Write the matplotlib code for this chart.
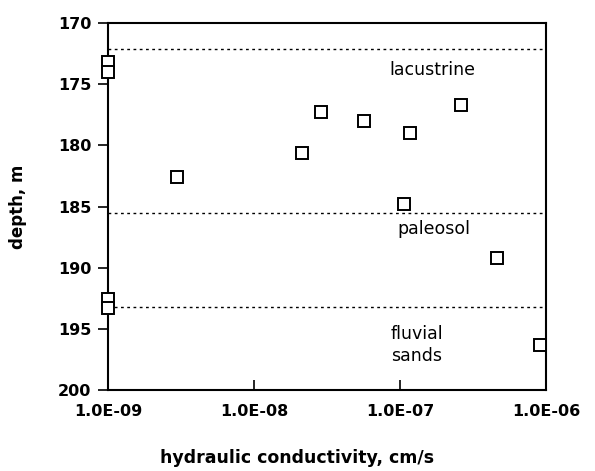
import matplotlib
matplotlib.use("Agg")
import matplotlib.pyplot as plt

# data
conductivity = [1.0e-9, 1.0e-9, 2.97e-9, 2.12e-8, 2.88e-8, 5.69e-8, 1.17e-7,
                2.64e-7, 1.06e-7, 4.59e-7, 9.1e-7, 1.0e-9, 1.0e-9]
depth = [173.2, 174.0, 182.6, 180.6, 177.3, 178.0, 179.0,
         176.7, 184.8, 189.2, 196.3, 192.6, 193.3]

boundaries = [172.1, 185.5, 193.2]
unit_names = ["lacustrine", "paleosol", "fluvial\nsands"]
unit_x = [8.5e-8, 9.6e-8, 8.7e-8]
unit_y = [173.8, 186.8, 196.3]

y_ticks = [170, 175, 180, 185, 190, 195, 200]
x_ticks = [1e-9, 1e-8, 1e-7, 1e-6]
x_tick_labels = ["1.0E-09", "1.0E-08", "1.0E-07", "1.0E-06"]

plt.rcParams['font.family'] = ['DejaVu Sans']

fig = plt.figure(figsize=(5.95, 4.71), dpi=100)
ax = fig.add_axes([0.1815, 0.172, 0.736, 0.779])

ax.set_xscale('log')
ax.set_xlim(1e-9, 1e-6)
ax.set_ylim(200, 170)

# formation boundaries
for b in boundaries:
    ax.axhline(b, color='black', linewidth=1.0, linestyle=(0, (2, 2.5)))

ax.plot(conductivity, depth, linestyle='none', marker='s', markersize=8.5,
        markerfacecolor='white', markeredgecolor='black',
        markeredgewidth=1.4, clip_on=False, zorder=3)

for name, xx, yy in zip(unit_names, unit_x, unit_y):
    ax.text(xx, yy, name, ha='left', va='center', multialignment='left',
            fontsize=12.5, linespacing=1.3)

ax.set_yticks(y_ticks)
ax.set_yticklabels([str(v) for v in y_ticks], fontweight='bold', fontsize=11.5)
ax.set_xticks(x_ticks)
ax.set_xticklabels(x_tick_labels, fontweight='bold', fontsize=11.5)
ax.minorticks_off()
ax.tick_params(axis='y', direction='out', length=7, width=1.2, pad=5)
ax.tick_params(axis='x', direction='in', length=7, width=1.2, pad=10)

for s in ax.spines.values():
    s.set_linewidth(1.5)

ax.set_ylabel("depth, m", fontweight='bold', fontsize=12, labelpad=22)
fig.text(0.5, 0.028, "hydraulic conductivity, cm/s", ha='center', va='center',
         fontweight='bold', fontsize=12.5)

fig.savefig("out.png", dpi=100)
